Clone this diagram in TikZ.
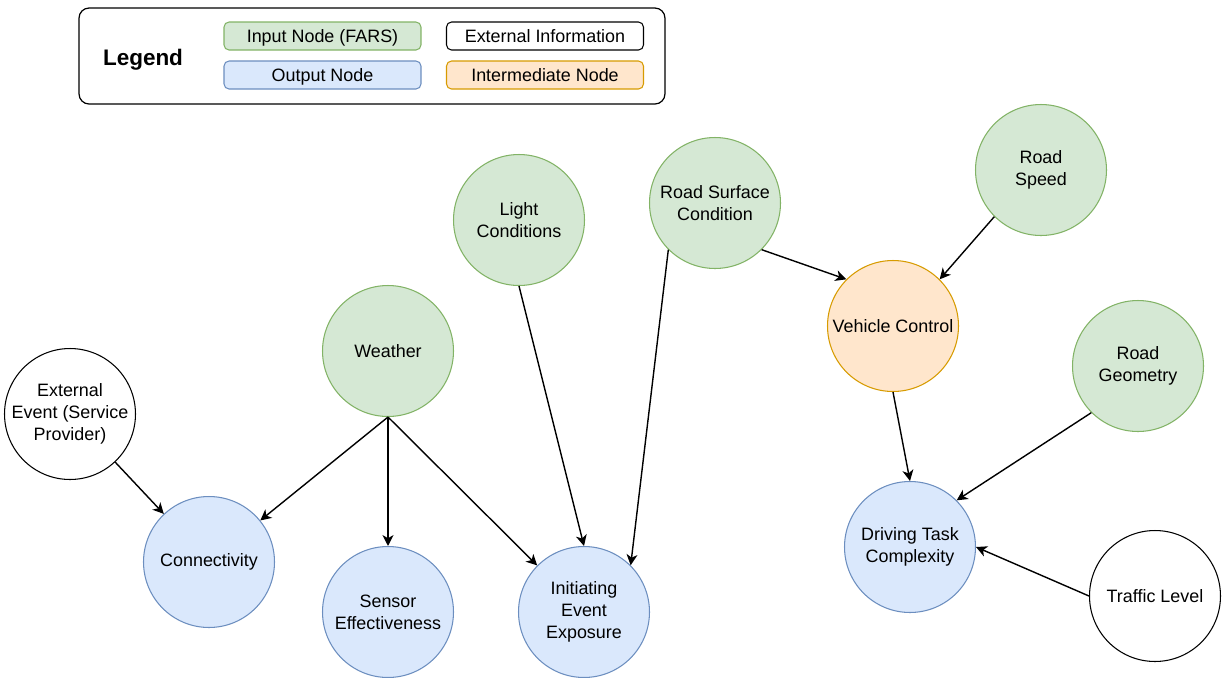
\documentclass[tikz,border=0pt]{standalone}
\usepackage{fontspec}
\setmainfont{Liberation Sans}
\usetikzlibrary{arrows.meta}
\definecolor{gfill}{HTML}{D5E8D4}
\definecolor{gline}{HTML}{82B366}
\definecolor{bfill}{HTML}{DAE8FC}
\definecolor{bline}{HTML}{6C8EBF}
\definecolor{ofill}{HTML}{FFE6CC}
\definecolor{oline}{HTML}{D79B00}
\begin{document}
\begin{tikzpicture}[x=0.02cm,y=-0.02cm,
  txt/.style={font=\fontsize{10.2}{12.4}\selectfont},
  bnode/.style={circle, minimum size=2.62cm, inner sep=0pt, align=center, line width=0.6pt, txt},
  inputnode/.style={bnode, fill=gfill, draw=gline},
  outputnode/.style={bnode, fill=bfill, draw=bline},
  internode/.style={bnode, fill=ofill, draw=oline},
  extnode/.style={bnode, fill=white, draw=black},
  legbox/.style={rectangle, rounded corners=0.1cm, minimum width=3.94cm, minimum height=0.56cm, inner sep=0pt, text height=0.86em, text depth=0.14em, line width=0.6pt, txt},
  arr/.style={-{Stealth[length=6.2pt,width=6.2pt,inset=1.8pt]}, line width=0.8pt, black}
]
\useasboundingbox (0,0) rectangle (1225,677);

% legend
\node[draw=black, line width=0.7pt, rounded corners=0.2cm, minimum width=11.72cm, minimum height=1.92cm, inner sep=0pt] (legendbox) at (372,56) {};
\node[font=\fontsize{12.8}{14}\selectfont\bfseries] (legendtitle) at (143,60) {Legend};
\node[legbox, fill=gfill, draw=gline] (leginput) at (322.5,36) {Input Node (FARS)};
\node[legbox, fill=white, draw=black] (legext) at (545,36) {External Information};
\node[legbox, fill=bfill, draw=bline] (legout) at (322.5,75) {Output Node};
\node[legbox, fill=ofill, draw=oline] (leginter) at (545,75) {Intermediate Node};

% nodes
\node[inputnode] (light) at (519,220) {Light\\Conditions};
\node[inputnode] (rsc) at (715,203) {Road Surface\\Condition};
\node[inputnode] (rspeed) at (1041,170) {Road\\Speed};
\node[inputnode] (weather) at (388,351) {Weather};
\node[internode] (vc) at (893,326) {Vehicle Control};
\node[inputnode] (rgeo) at (1138,366) {Road\\Geometry};
\node[extnode] (ext) at (70,414) {External\\Event (Service\\Provider)};
\node[outputnode] (conn) at (209,562) {Connectivity};
\node[outputnode] (sensor) at (388,612) {Sensor\\Effectiveness};
\node[outputnode] (init) at (584,612) {Initiating\\Event\\Exposure};
\node[outputnode] (dtc) at (910,547) {Driving Task\\Complexity};
\node[extnode] (traffic) at (1155,596) {Traffic Level};

% edges
\draw[arr] (weather.south) -- (conn);
\draw[arr] (weather.south) -- (sensor.north);
\draw[arr] (weather.south) -- (init);
\draw[arr] (ext) -- (conn);
\draw[arr] (light.south) -- (init.north);
\draw[arr] (rsc.225) -- (init.45);
\draw[arr] (rsc.-45) -- (vc.135);
\draw[arr] (rspeed.225) -- (vc.45);
\draw[arr] (vc.south) -- (dtc.north);
\draw[arr] (rgeo.225) -- (dtc.45);
\draw[arr] (traffic.west) -- (dtc.east);
\end{tikzpicture}
\end{document}
